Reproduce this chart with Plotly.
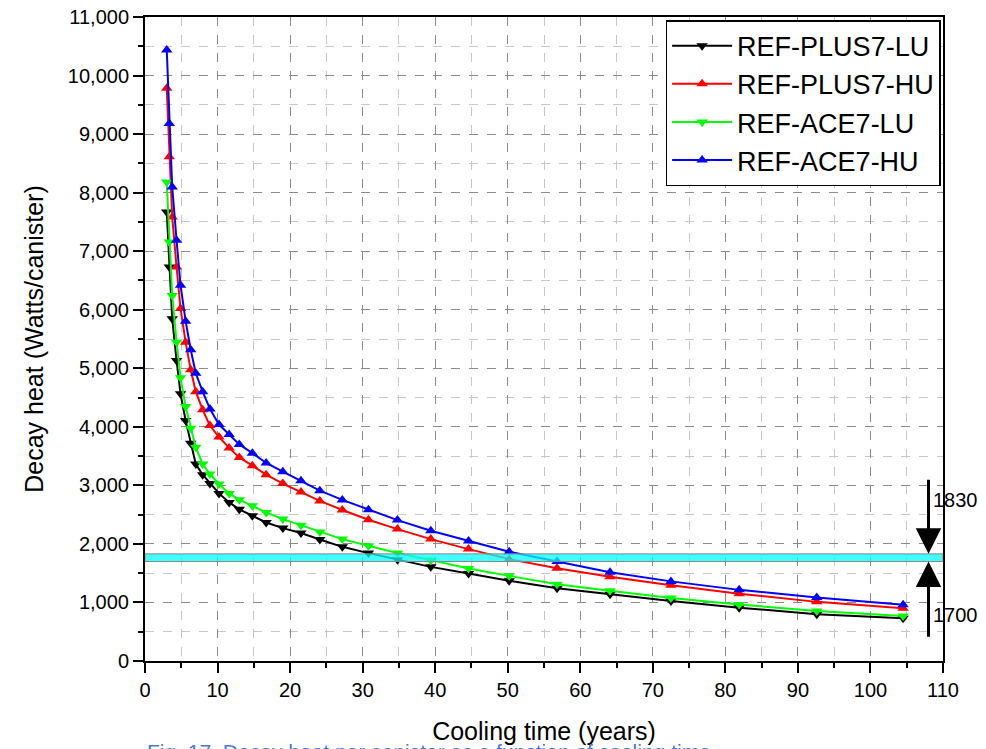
import plotly.graph_objects as go

cooling_years = [3.0, 3.35, 3.75, 4.35, 4.9, 5.6, 6.3, 7.0, 7.95, 8.95, 10.2, 11.6, 13.0,
                 14.8, 16.7, 19.0, 21.5, 24.1, 27.2, 30.8, 34.8, 39.4, 44.6, 50.2, 56.8,
                 64.1, 72.5, 81.9, 92.6, 104.5]

plus7_lu = [7670, 6729, 5846, 5133, 4563, 4106, 3718, 3365, 3182, 3033, 2863, 2709, 2590,
            2481, 2366, 2270, 2185, 2075, 1950, 1843, 1728, 1608, 1494, 1369, 1244,
            1140, 1026, 910, 800, 730]
plus7_hu = [9781, 8611, 7584, 6729, 6020, 5446, 4973, 4600, 4290, 4021, 3826, 3640, 3478,
            3336, 3182, 3030, 2888, 2735, 2580, 2412, 2253, 2082, 1911, 1740, 1586,
            1440, 1295, 1150, 1010, 900]
ace7_lu = [8183, 7157, 6245, 5446, 4837, 4346, 3974, 3649, 3365, 3194, 3023, 2863, 2755,
           2652, 2537, 2424, 2320, 2205, 2082, 1967, 1843, 1723, 1580, 1454, 1312,
           1200, 1078, 965, 855, 770]
ace7_hu = [10436, 9182, 8098, 7186, 6416, 5805, 5316, 4915, 4600, 4306, 4038, 3870, 3700,
           3550, 3382, 3234, 3080, 2910, 2752, 2583, 2407, 2224, 2048, 1865, 1699,
           1515, 1360, 1215, 1085, 960]

series_names = ["REF-PLUS7-LU", "REF-PLUS7-HU", "REF-ACE7-LU", "REF-ACE7-HU"]
series_values = [plus7_lu, plus7_hu, ace7_lu, ace7_hu]
series_colors = ["#000000", "#ff0000", "#00ff00", "#0000ff"]
series_symbols = ["triangle-down", "triangle-up", "triangle-down", "triangle-up"]

band_low, band_high = 1700, 1830
x_ticks = list(range(0, 111, 10))
y_ticks = list(range(0, 11001, 1000))
caption = "Fig. 17. Decay heat per canister as a function of cooling time."

FONT = "Arial, Liberation Sans, sans-serif"

fig = go.Figure()
for name, vals, col, sym in zip(series_names, series_values, series_colors, series_symbols):
    fig.add_trace(go.Scatter(
        x=cooling_years, y=vals, name=name, mode="lines+markers",
        line=dict(color=col, width=2),
        marker=dict(symbol=sym, size=10, color=col),
    ))

# heat limit band
fig.add_shape(type="rect", xref="x", yref="y", x0=0, x1=110, y0=band_low, y1=band_high,
              fillcolor="rgba(0,255,255,0.75)", line=dict(color="#888888", width=1),
              layer="above")

# arrows
fig.add_annotation(x=108, y=band_high, ax=108, ay=3120, xref="x", yref="y",
                   axref="x", ayref="y", showarrow=True, arrowhead=2, arrowsize=1.7,
                   arrowwidth=3, arrowcolor="black", text="")
fig.add_annotation(x=108, y=band_low, ax=108, ay=390, xref="x", yref="y",
                   axref="x", ayref="y", showarrow=True, arrowhead=2, arrowsize=1.7,
                   arrowwidth=3, arrowcolor="black", text="")
fig.add_annotation(x=108.3, y=2745, xref="x", yref="y", text=str(band_high),
                   showarrow=False, xanchor="left",
                   font=dict(family=FONT, size=20, color="black"))
fig.add_annotation(x=108.3, y=780, xref="x", yref="y", text=str(band_low),
                   showarrow=False, xanchor="left",
                   font=dict(family=FONT, size=20, color="black"))

# partially visible caption (clipped at the bottom edge, as in the source)
fig.add_annotation(x=0, y=-0.140, xref="paper", yref="paper",
                   text=caption,
                   showarrow=False, xanchor="left", yanchor="middle",
                   font=dict(family=FONT, size=21, color="#4a78d8"))

axis_common = dict(
    showline=True, linewidth=2, linecolor="black", mirror=True,
    ticks="outside", ticklen=10, tickwidth=2, tickcolor="black",
    showgrid=True, gridcolor="#8c8c8c", gridwidth=1, griddash="dash",
    zeroline=False, automargin=False,
    tickfont=dict(family=FONT, size=20, color="black"),
)

fig.update_xaxes(
    range=[0, 110], tickvals=x_ticks,
    title=dict(text="Cooling time (years)", font=dict(family=FONT, size=25, color="black"),
               standoff=22),
    minor=dict(dtick=5, tick0=0, ticks="outside", ticklen=5, tickwidth=2, tickcolor="black",
               showgrid=True, gridcolor="#c8c8c8", griddash="dash", gridwidth=1),
    **axis_common,
)
fig.update_yaxes(
    range=[0, 11000], tickvals=y_ticks, tickformat=",d",
    title=dict(text="Decay heat (Watts/canister)", font=dict(family=FONT, size=25, color="black"),
               standoff=17),
    minor=dict(dtick=500, tick0=0, ticks="outside", ticklen=5, tickwidth=2, tickcolor="black",
               showgrid=True, gridcolor="#c8c8c8", griddash="dash", gridwidth=1),
    **axis_common,
)

fig.update_layout(
    width=986, height=749,
    margin=dict(l=145, r=43, t=17, b=88),
    paper_bgcolor="white", plot_bgcolor="white",
    font=dict(family=FONT, color="black"),
    legend=dict(x=0.997, y=0.995, xanchor="right", yanchor="top",
                bgcolor="white", bordercolor="black", borderwidth=1.5,
                font=dict(family=FONT, size=27, color="black"),
                tracegroupgap=0, itemwidth=60),
    showlegend=True,
)

fig.write_html("out.html")
